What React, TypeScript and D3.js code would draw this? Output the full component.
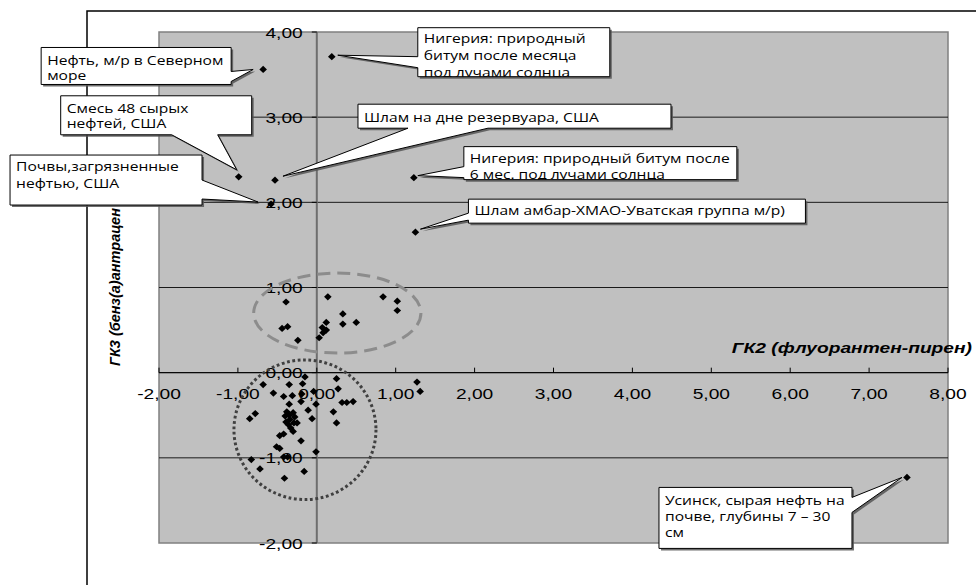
import React from "react";
import * as d3 from "d3";

// axis ticks
const xTicks = [-2, -1, 0, 1, 2, 3, 4, 5, 6, 7, 8];
const yTicks = [-2, -1, 0, 1, 2, 3, 4];

// upper cluster (inside dashed ellipse)
const upperPoints: [number, number][] = [
  [-0.39, 0.83], [0.14, 0.89], [0.84, 0.89], [1.02, 0.84], [1.02, 0.73],
  [0.33, 0.69], [0.33, 0.57], [0.5, 0.59], [0.12, 0.59], [0.07, 0.53],
  [0.12, 0.5], [0.08, 0.47], [0.03, 0.41], [-0.37, 0.54], [-0.44, 0.52],
  [-0.24, 0.38],
];

// lower cluster (inside dotted circle) + two points right of it
const lowerPoints: [number, number][] = [
  [-0.15, -0.05], [0.25, -0.07], [-0.68, -0.14], [-0.35, -0.14], [-0.18, -0.13],
  [-0.55, -0.24], [-0.42, -0.28], [-0.31, -0.27], [-0.19, -0.25], [-0.04, -0.22],
  [0.27, -0.19], [-0.35, -0.37], [-0.2, -0.34], [-0.01, -0.37], [0.32, -0.35],
  [0.38, -0.35], [0.46, -0.34], [-0.11, -0.44], [0.21, -0.46], [-0.78, -0.48],
  [-0.85, -0.54], [-0.38, -0.46], [-0.3, -0.47], [-0.35, -0.5], [-0.4, -0.51],
  [-0.28, -0.52], [-0.34, -0.55], [-0.39, -0.58], [-0.29, -0.59], [-0.36, -0.61],
  [-0.25, -0.59], [-0.06, -0.54], [0.25, -0.59], [-0.33, -0.65], [-0.3, -0.69],
  [-0.42, -0.72], [-0.47, -0.74], [-0.2, -0.8], [-0.51, -0.87], [-0.47, -0.89],
  [-0.01, -0.93], [-0.83, -1.02], [-0.42, -0.99], [-0.37, -0.99], [-0.72, -1.13],
  [-0.16, -1.16], [-0.41, -1.24], [1.27, -0.11], [1.31, -0.22],
];

// labelled samples
const labelNames = [
  ["Нефть, м/р в Северном", "море"],
  ["Смесь 48 сырых", "нефтей, США"],
  ["Почвы,загрязненные", "нефтью, США"],
  ["Нигерия: природный", "битум после месяца", "под лучами солнца"],
  ["Шлам на дне резервуара, США"],
  ["Нигерия: природный битум после", "6 мес. под лучами солнца"],
  ["Шлам амбар-ХМАО-Уватская группа м/р)"],
  ["Усинск, сырая нефть на", "почве, глубины 7 – 30", "см"],
];
const labelX = [-0.68, -0.99, -0.58, 0.19, -0.53, 1.23, 1.25, 7.48];
const labelY = [3.56, 2.3, 1.98, 3.71, 2.26, 2.29, 1.65, -1.23];

// callout layout (pixel offsets from the point)
type Side = "left" | "right" | "top" | "bottom";
const callouts: {
  dx: number; dy: number; w: number; h: number; side: Side;
  b1: number; b2: number; tdx: number; tdy: number; fb: number; lh: number;
}[] = [
  { dx: -222, dy: -22, w: 190, h: 37, side: "right", b1: 24, b2: 34, tdx: -10, tdy: 0, fb: 18, lh: 15 },
  { dx: -178, dy: -81, w: 191, h: 39, side: "bottom", b1: 111, b2: 157, tdx: -2, tdy: -7, fb: 17, lh: 15 },
  { dx: -261, dy: -49, w: 192, h: 50, side: "right", b1: 25, b2: 44, tdx: -13, tdy: -2, fb: 16, lh: 17 },
  { dx: 86, dy: -29, w: 192, h: 49, side: "left", b1: 29, b2: 40, tdx: 6, tdy: -1.5, fb: 15, lh: 17 },
  { dx: 83, dy: -76, w: 313, h: 24, side: "bottom", b1: 50, b2: 130, tdx: 8, tdy: -4, fb: 17.5, lh: 17 },
  { dx: 50, dy: -31, w: 273, h: 33, side: "left", b1: 20, b2: 31, tdx: 4, tdy: -2, fb: 16, lh: 16.5 },
  { dx: 53, dy: -33, w: 337, h: 24, side: "left", b1: 14, b2: 21, tdx: 5, tdy: -3, fb: 16, lh: 16 },
  { dx: -248, dy: 10, w: 193, h: 61, side: "right", b1: 10, b2: 25, tdx: -5, tdy: 0, fb: 18, lh: 16 },
];

// ellipses in data units
const ellipseUpper = { cx: 0.26, cy: 0.7, rx: 1.06, ry: 0.47 };
const ellipseLower = { cx: -0.15, cy: -0.67, rx: 0.9, ry: 0.82 };

const W = 976;
const H = 585;
const SX = 1.28; // horizontal stretch of the original bitmap text

const x = d3.scaleLinear().domain([-2, 8]).range([159, 948]);
const y = d3.scaleLinear().domain([-2, 4]).range([543, 32]);
const fmt = (v: number) => v.toFixed(2).replace(".", ",");

function calloutPath(bx: number, by: number, w: number, h: number, side: Side, b1: number, b2: number, tx: number, ty: number) {
  const p = d3.path();
  p.moveTo(bx, by);
  if (side === "top") { p.lineTo(bx + b1, by); p.lineTo(tx, ty); p.lineTo(bx + b2, by); }
  p.lineTo(bx + w, by);
  if (side === "right") { p.lineTo(bx + w, by + b1); p.lineTo(tx, ty); p.lineTo(bx + w, by + b2); }
  p.lineTo(bx + w, by + h);
  if (side === "bottom") { p.lineTo(bx + b2, by + h); p.lineTo(tx, ty); p.lineTo(bx + b1, by + h); }
  p.lineTo(bx, by + h);
  if (side === "left") { p.lineTo(bx, by + b2); p.lineTo(tx, ty); p.lineTo(bx, by + b1); }
  p.closePath();
  return p.toString();
}

const Diamond = ({ cx, cy }: { cx: number; cy: number }) => (
  <path d={`M${cx},${cy - 3.6}L${cx + 3.8},${cy}L${cx},${cy + 3.6}L${cx - 3.8},${cy}Z`} fill="#000" />
);

export default function App() {
  const x0 = x(0);
  const y0 = y(0);
  const allPoints: [number, number][] = [
    ...upperPoints,
    ...lowerPoints,
    ...labelX.map((v, i) => [v, labelY[i]] as [number, number]),
  ];
  const tickFont = "'Liberation Sans', Arial, sans-serif";
  const boxFont = "'Open Sans', 'Noto Sans', sans-serif";

  return (
    <div style={{ position: "absolute", left: 0, top: 0 }}>
      <svg width={W} height={H} style={{ display: "block", background: "#fff" }}>
        <defs>
          {callouts.map((c, i) => {
            const px = x(labelX[i]);
            const py = y(labelY[i]);
            return (
              <clipPath id={`clip${i}`} key={i}>
                <rect x={px + c.dx} y={py + c.dy} width={c.w} height={c.h} />
              </clipPath>
            );
          })}
        </defs>

        {/* chart frame */}
        <path d={`M87,${H}V11H${W}`} fill="none" stroke="#000" strokeWidth={1.5} />

        {/* plot area */}
        <rect x={x(-2)} y={y(4)} width={x(8) - x(-2)} height={y(-2) - y(4)} fill="#c0c0c0" stroke="#808080" strokeWidth={1.5} />

        {/* gridlines */}
        {yTicks.filter((t) => t !== -2 && t !== 4).map((t) => (
          <line key={t} x1={x(-2)} x2={x(8)} y1={y(t)} y2={y(t)} stroke="#1a1a1a" strokeWidth={1} />
        ))}

        {/* axes */}
        <line x1={x0} x2={x0} y1={y(4)} y2={y(-2)} stroke="#6e6e6e" strokeWidth={2} />
        <line x1={x(-2)} x2={x(8)} y1={y0} y2={y0} stroke="#000" strokeWidth={1} />
        {xTicks.map((t) => (
          <line key={t} x1={x(t)} x2={x(t)} y1={y0} y2={y0 - 5} stroke="#000" strokeWidth={1} />
        ))}
        {yTicks.map((t) => (
          <line key={t} x1={x0 - 5} x2={x0} y1={y(t)} y2={y(t)} stroke="#000" strokeWidth={1} />
        ))}

        {/* tick labels */}
        {xTicks.map((t) => (
          <text key={t} transform={`translate(${x(t)},${y0 + 26}) scale(${SX},1)`} textAnchor="middle"
            fontFamily={tickFont} fontSize={15} fill="#000">{fmt(t)}</text>
        ))}
        {yTicks.map((t) => (
          <text key={t} transform={`translate(${x0 - 14},${y(t) + 5.5}) scale(${SX},1)`} textAnchor="end"
            fontFamily={tickFont} fontSize={15} fill="#000">{fmt(t)}</text>
        ))}

        {/* axis titles */}
        <text transform={`translate(972,353) scale(${SX},1)`} textAnchor="end" fontFamily={tickFont}
          fontSize={15} fontWeight="bold" fontStyle="italic" fill="#000">ГК2 (флуорантен-пирен)</text>
        <text transform={`translate(120,366) rotate(-90)`} textAnchor="start" fontFamily={tickFont}
          fontSize={14.5} fontWeight="bold" fontStyle="italic" fill="#000">ГК3 (бенз(а)антрацен</text>

        {/* ellipses */}
        <ellipse cx={x(ellipseUpper.cx)} cy={y(ellipseUpper.cy)}
          rx={x(ellipseUpper.rx) - x(0)} ry={y(0) - y(ellipseUpper.ry)}
          fill="none" stroke="#8c8c8c" strokeWidth={3} strokeDasharray="13 7" />
        <ellipse cx={x(ellipseLower.cx)} cy={y(ellipseLower.cy)}
          rx={x(ellipseLower.rx) - x(0)} ry={y(0) - y(ellipseLower.ry)}
          fill="none" stroke="#404040" strokeWidth={3} strokeDasharray="2.8 2.6" />

        {/* points */}
        {allPoints.map(([a, b], i) => (
          <Diamond key={i} cx={x(a)} cy={y(b)} />
        ))}

        {/* callouts */}
        {callouts.map((c, i) => {
          const px = x(labelX[i]);
          const py = y(labelY[i]);
          const bx = px + c.dx;
          const by = py + c.dy;
          const d = calloutPath(bx, by, c.w, c.h, c.side, c.b1, c.b2, px + c.tdx, py + c.tdy);
          return (
            <g key={i}>
              <path d={d} transform="translate(2,2)" fill="#555" opacity={0.85} />
              <path d={d} fill="#fff" stroke="#000" strokeWidth={1} />
              <g clipPath={`url(#clip${i})`}>
                {labelNames[i].map((line, j) => (
                  <text key={j} transform={`translate(${bx + 6},${by + c.fb + j * c.lh}) scale(1.2,1)`}
                    fontFamily={boxFont} fontSize={13} fill="#000">{line}</text>
                ))}
              </g>
            </g>
          );
        })}
      </svg>
    </div>
  );
}
